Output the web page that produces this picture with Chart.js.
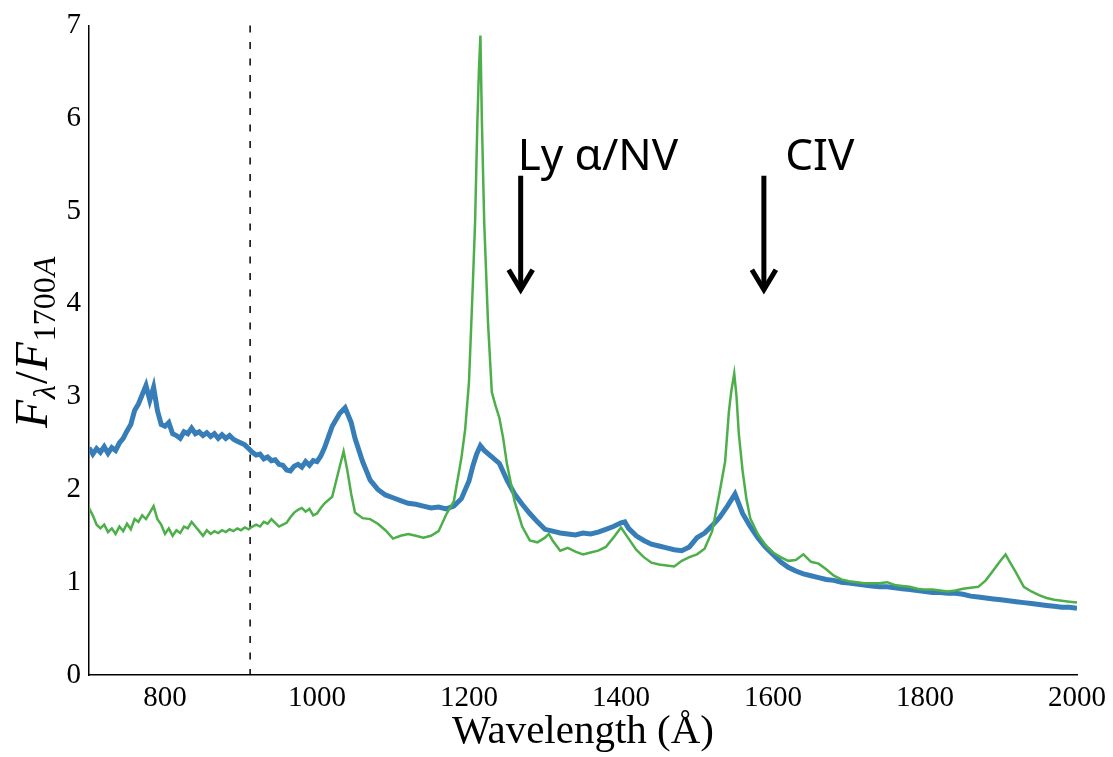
<!DOCTYPE html>
<html lang="en">
<head>
  <meta charset="UTF-8" />
  <title>Composite spectra</title>
  <script src="https://cdn.jsdelivr.net/npm/chart.js"></script>
  <style>
    body {
      margin: 0;
      background: #ffffff;
    }
    .chart-container {
      position: relative;
      width: 1113px;
      height: 757px;
    }
  </style>
</head>
<body>
  <div class="chart-container">
    <canvas id="specChart"></canvas>
  </div>

  <script>
    // Blue composite: wavelength (Å) and normalised flux
    const waveBlue = [
      700, 705, 710, 715, 720, 725, 730, 735, 740, 745, 750, 755, 760, 765, 770, 775, 780, 785, 790, 795,
      800, 805, 810, 815, 820, 825, 830, 835, 840, 845, 850, 855, 860, 865, 870, 875, 880, 885, 890, 895,
      900, 905, 910, 915, 920, 925, 930, 935, 940, 945, 950, 955, 960, 965, 970, 975, 980, 985, 990, 995,
      1000, 1005, 1010, 1020, 1030, 1037, 1045, 1050, 1060, 1070, 1080, 1090, 1100, 1110, 1120, 1130, 1140,
      1150, 1160, 1170, 1180, 1190, 1200, 1205, 1210, 1215, 1220, 1230, 1240, 1250, 1260, 1270, 1280, 1290,
      1300, 1310, 1320, 1330, 1340, 1350, 1360, 1370, 1380, 1390, 1400, 1405, 1410, 1420, 1430, 1440, 1450,
      1460, 1470, 1480, 1490, 1500, 1510, 1520, 1530, 1540, 1550, 1560, 1570, 1580, 1590, 1600, 1610, 1620,
      1630, 1640, 1650, 1660, 1670, 1680, 1690, 1700, 1710, 1720, 1730, 1740, 1750, 1760, 1770, 1780, 1790,
      1800, 1810, 1820, 1830, 1840, 1850, 1860, 1870, 1880, 1890, 1900, 1910, 1920, 1930, 1940, 1950, 1960,
      1970, 1980, 1990, 2000
    ];
    const fluxBlue = [
      2.45, 2.38, 2.44, 2.40, 2.46, 2.39, 2.45, 2.42, 2.50, 2.55, 2.63, 2.70, 2.85, 2.92, 3.02, 3.12, 2.96, 3.10, 2.85, 2.70,
      2.68, 2.72, 2.60, 2.58, 2.55, 2.62, 2.60, 2.66, 2.60, 2.62, 2.58, 2.61, 2.57, 2.60, 2.55, 2.59, 2.55, 2.58, 2.54, 2.52,
      2.50, 2.48, 2.44, 2.40, 2.37, 2.38, 2.33, 2.35, 2.31, 2.32, 2.27, 2.26, 2.21, 2.20, 2.25, 2.27, 2.24, 2.30, 2.26, 2.31,
      2.30, 2.36, 2.45, 2.68, 2.82, 2.88, 2.72, 2.55, 2.30, 2.10, 2.00, 1.94, 1.91, 1.88, 1.85, 1.84, 1.82,
      1.80, 1.81, 1.79, 1.82, 1.90, 2.09, 2.25, 2.38, 2.47, 2.42, 2.35, 2.28, 2.10, 1.95, 1.84, 1.74, 1.65,
      1.57, 1.55, 1.53, 1.52, 1.51, 1.53, 1.52, 1.54, 1.57, 1.60, 1.64, 1.65, 1.58, 1.50, 1.45, 1.41, 1.39,
      1.37, 1.35, 1.34, 1.38, 1.48, 1.53, 1.61, 1.70, 1.82, 1.95, 1.74, 1.60, 1.48, 1.38, 1.30, 1.22, 1.16,
      1.12, 1.09, 1.07, 1.05, 1.03, 1.02, 1.00, 0.99, 0.98, 0.97, 0.96, 0.95, 0.95, 0.94, 0.93, 0.92, 0.91,
      0.90, 0.89, 0.89, 0.88, 0.88, 0.87, 0.85, 0.84, 0.83, 0.82, 0.81, 0.80, 0.79, 0.78, 0.77, 0.76, 0.75,
      0.74, 0.73, 0.73, 0.72
    ];

    // Green composite
    const waveGreen = [
      700, 705, 710, 715, 720, 725, 730, 735, 740, 745, 750, 755, 760, 765, 770, 775, 780, 785, 790, 795,
      800, 805, 810, 815, 820, 825, 830, 835, 840, 845, 850, 855, 860, 865, 870, 875, 880, 885, 890, 895,
      900, 905, 910, 915, 920, 925, 930, 935, 940, 945, 950, 955, 960, 965, 970, 975, 980, 985, 990, 995,
      1000, 1005, 1010, 1020, 1030, 1035, 1040, 1045, 1050, 1060, 1070, 1080, 1090, 1100, 1110, 1120, 1130,
      1140, 1150, 1160, 1170, 1180, 1190, 1195, 1200, 1205, 1208, 1211, 1213, 1215, 1217, 1220, 1225, 1230,
      1235, 1240, 1245, 1250, 1260, 1270, 1280, 1290, 1300, 1305, 1310, 1320, 1330, 1340, 1350, 1360, 1370,
      1380, 1390, 1400, 1410, 1420, 1430, 1440, 1450, 1460, 1470, 1480, 1490, 1500, 1510, 1520, 1530, 1537,
      1542, 1545, 1549, 1552, 1555, 1560, 1565, 1570, 1580, 1590, 1600, 1610, 1620, 1630, 1640, 1650, 1660,
      1670, 1680, 1690, 1700, 1710, 1720, 1730, 1740, 1750, 1760, 1770, 1780, 1790, 1800, 1810, 1820, 1830,
      1840, 1850, 1860, 1870, 1880, 1890, 1900, 1906, 1910, 1920, 1930, 1940, 1950, 1960, 1970, 1980, 1990, 2000
    ];
    const fluxGreen = [
      1.80, 1.72, 1.62, 1.58, 1.62, 1.54, 1.58, 1.52, 1.60, 1.55, 1.63, 1.57, 1.68, 1.65, 1.72, 1.68, 1.75, 1.82, 1.68, 1.62,
      1.52, 1.58, 1.50, 1.56, 1.53, 1.60, 1.58, 1.65, 1.60, 1.55, 1.50, 1.56, 1.52, 1.55, 1.53, 1.56, 1.54, 1.57, 1.55, 1.58,
      1.56, 1.59, 1.57, 1.60, 1.62, 1.60, 1.65, 1.63, 1.68, 1.64, 1.60, 1.62, 1.64, 1.70, 1.75, 1.78, 1.80, 1.76, 1.79, 1.72,
      1.74, 1.80, 1.85, 1.92, 2.25, 2.41, 2.20, 1.95, 1.75, 1.69, 1.68, 1.63, 1.56, 1.47, 1.50, 1.52, 1.50,
      1.48, 1.50, 1.55, 1.73, 1.87, 2.34, 2.65, 3.16, 4.20, 4.88, 5.95, 6.50, 6.89, 5.95, 4.88, 3.80, 3.05,
      2.90, 2.77, 2.55, 2.27, 1.87, 1.60, 1.45, 1.43, 1.48, 1.52, 1.45, 1.34, 1.37, 1.33, 1.30, 1.32, 1.34,
      1.38, 1.48, 1.59, 1.47, 1.35, 1.27, 1.21, 1.19, 1.18, 1.17, 1.23, 1.27, 1.30, 1.36, 1.55, 1.98, 2.30,
      2.84, 3.05, 3.25, 3.00, 2.60, 2.20, 1.90, 1.69, 1.52, 1.40, 1.32, 1.27, 1.23, 1.24, 1.30, 1.22, 1.20,
      1.14, 1.07, 1.03, 1.01, 1.00, 0.99, 0.99, 0.99, 1.00, 0.97, 0.96, 0.95, 0.93, 0.92, 0.92, 0.91, 0.90,
      0.91, 0.93, 0.94, 0.95, 1.02, 1.13, 1.24, 1.30, 1.24, 1.10, 0.95, 0.90, 0.86, 0.83, 0.81, 0.80, 0.79, 0.78
    ];

    // Line labels: text, arrow wavelength, arrow top / tip flux, text position
    const lineNames = ['Ly \u03b1/NV', 'CIV'];
    const lineWave = [1268, 1588];
    const textWave = [1264, 1616];
    const arrowTop = 5.38;
    const arrowTip = 4.13;
    const textFlux = 5.44;
    const lymanLimit = 912;

    const toPoints = (xs, ys) => xs.map((x, i) => ({ x: x, y: ys[i] }));

    const serif = '"Liberation Serif", "DejaVu Serif", serif';

    // dashed Lyman-limit line, drawn under the spectra
    const limitLine = {
      id: 'limitLine',
      beforeDatasetsDraw(chart) {
        const { ctx, scales: { x, y } } = chart;
        const px = x.getPixelForValue(lymanLimit);
        ctx.save();
        ctx.strokeStyle = '#000';
        ctx.lineWidth = 1.5;
        ctx.setLineDash([7, 9.5]);
        ctx.beginPath();
        ctx.moveTo(px, y.getPixelForValue(7));
        ctx.lineTo(px, y.getPixelForValue(0));
        ctx.stroke();
        ctx.restore();
      }
    };

    // arrows and emission line names
    const lineMarks = {
      id: 'lineMarks',
      afterDatasetsDraw(chart) {
        const { ctx, scales: { x, y } } = chart;
        ctx.save();
        ctx.strokeStyle = '#000';
        ctx.fillStyle = '#000';
        ctx.lineWidth = 5;
        const top = y.getPixelForValue(arrowTop);
        const tip = y.getPixelForValue(arrowTip);
        lineWave.forEach((w, i) => {
          const px = x.getPixelForValue(w);
          ctx.beginPath();
          ctx.moveTo(px, top);
          ctx.lineTo(px, tip - 3);
          ctx.stroke();
          ctx.beginPath();
          ctx.moveTo(px - 12, tip - 22);
          ctx.lineTo(px, tip - 2);
          ctx.lineTo(px + 12, tip - 22);
          ctx.stroke();

          ctx.font = '44px "Noto Sans", "Open Sans", sans-serif';
          ctx.textAlign = 'left';
          ctx.textBaseline = 'alphabetic';
          ctx.fillText(lineNames[i], x.getPixelForValue(textWave[i]), y.getPixelForValue(textFlux));
        });
        ctx.restore();
      }
    };

    // rotated y title with subscripts: F_lambda / F_1700A
    const yTitle = {
      id: 'yTitle',
      afterDraw(chart) {
        const ctx = chart.ctx;
        const parts = [
          { t: 'F', f: 'italic 46px ' + serif, dy: 0 },
          { t: '\u03bb', f: 'italic 32px ' + serif, dy: 8 },
          { t: '/', f: '46px ' + serif, dy: 0 },
          { t: 'F', f: 'italic 46px ' + serif, dy: 0 },
          { t: '1700', f: '32px ' + serif, dy: 8 },
          { t: 'A', f: 'italic 32px ' + serif, dy: 8 }
        ];
        ctx.save();
        ctx.translate(47, 428);
        ctx.rotate(-Math.PI / 2);
        ctx.fillStyle = '#000';
        ctx.textBaseline = 'alphabetic';
        let cx = 0;
        parts.forEach(p => {
          ctx.font = p.f;
          ctx.fillText(p.t, cx, p.dy);
          cx += ctx.measureText(p.t).width + 1;
        });
        ctx.restore();
      }
    };

    const ctx = document.getElementById('specChart').getContext('2d');

    new Chart(ctx, {
      type: 'line',
      data: {
        datasets: [
          {
            label: 'Green composite',
            data: toPoints(waveGreen, fluxGreen),
            borderColor: '#4daf4a',
            borderWidth: 2.5,
            pointRadius: 0,
            fill: false
          },
          {
            label: 'Blue composite',
            data: toPoints(waveBlue, fluxBlue),
            borderColor: '#377eb8',
            borderWidth: 5,
            pointRadius: 0,
            fill: false
          }
        ]
      },
      options: {
        responsive: true,
        maintainAspectRatio: false,
        animation: false,
        layout: { padding: { top: 22, right: 36, left: 0, bottom: 0 } },
        plugins: {
          legend: { display: false },
          tooltip: { enabled: false }
        },
        scales: {
          x: {
            type: 'linear',
            min: 700,
            max: 2000,
            grid: { display: false, drawTicks: false },
            border: { display: true, color: '#000', width: 1.5 },
            ticks: {
              stepSize: 200,
              includeBounds: false,
              padding: 6,
              color: '#000',
              font: { family: serif, size: 29 },
              callback: v => String(v)
            },
            title: {
              display: true,
              text: 'Wavelength (\u00c5)',
              color: '#000',
              font: { family: serif, size: 41 },
              padding: { top: 0, bottom: 0 }
            },
            afterFit: s => { s.height = 82; }
          },
          y: {
            min: 0,
            max: 7,
            grid: { display: false, drawTicks: false },
            border: { display: true, color: '#000', width: 1.5 },
            ticks: {
              stepSize: 1,
              padding: 8,
              color: '#000',
              font: { family: serif, size: 29 }
            },
            afterFit: s => { s.width = 89; }
          }
        }
      },
      plugins: [limitLine, lineMarks, yTitle]
    });
  </script>
</body>
</html>
